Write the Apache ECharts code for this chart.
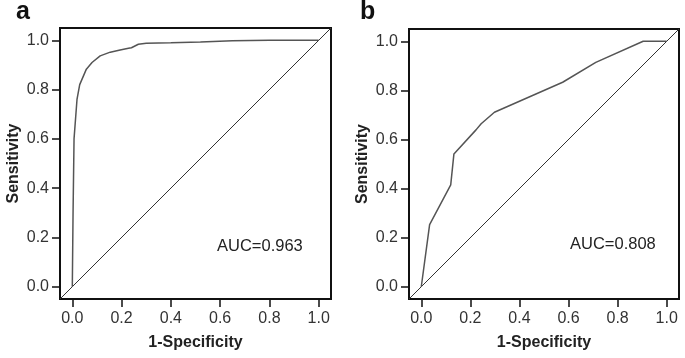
<!DOCTYPE html>
<html>
<head>
<meta charset="utf-8">
<script src="https://cdn.jsdelivr.net/npm/echarts@6/dist/echarts.min.js"></script>
<style>
  html, body { margin: 0; padding: 0; background: #fff; }
  #chart { width: 685px; height: 358px; }
</style>
</head>
<body>
<div id="chart"></div>
<script>
// ROC curve, panel a
const fprA = [0, 0.003, 0.007, 0.019, 0.03, 0.057, 0.08, 0.113, 0.154, 0.194, 0.228, 0.24, 0.268, 0.30, 0.40, 0.52, 0.65, 0.8, 1.0];
const tprA = [0, 0.3, 0.6, 0.76, 0.82, 0.883, 0.91, 0.937, 0.952, 0.961, 0.968, 0.97, 0.984, 0.988, 0.99, 0.993, 0.998, 1.0, 1.0];
// ROC curve, panel b
const fprB = [0, 0.034, 0.12, 0.133, 0.223, 0.244, 0.298, 0.576, 0.711, 0.904, 0.99, 1.0];
const tprB = [0, 0.253, 0.415, 0.541, 0.639, 0.664, 0.711, 0.833, 0.914, 1.0, 1.0, 1.0];
// reference line
const diag = [-0.05, 1.05];
const ticks = [0, 0.2, 0.4, 0.6, 0.8, 1.0];
const panels = ['a', 'b'];
const aucText = ['AUC=0.963', 'AUC=0.808'];

const pairs = (xs, ys) => xs.map((x, i) => [x, ys[i]]);

const font = '"Liberation Sans", Arial, sans-serif';
const grids = [
  { left: 60, top: 28, width: 271, height: 271 },
  { left: 409, top: 29, width: 270, height: 270 },
];

const axisBase = {
  type: 'value',
  min: -0.05,
  max: 1.05,
  splitLine: { show: false },
  axisLine: { show: false, onZero: false },
  axisTick: {
    show: true,
    inside: false,
    length: 8,
    customValues: ticks,
    lineStyle: { color: '#111', width: 1.5 },
  },
  axisLabel: {
    customValues: ticks,
    formatter: v => v.toFixed(1),
    color: '#333',
    fontSize: 16,
    fontFamily: font,
  },
  nameLocation: 'middle',
  nameTextStyle: { fontWeight: 'bold', fontSize: 16, color: '#222', fontFamily: font },
};

const chart = echarts.init(document.getElementById('chart'));
const option = {
  animation: false,
  backgroundColor: '#fff',
  grid: grids.map(g => ({
    ...g,
    show: true,
    borderColor: '#111',
    borderWidth: 2,
    backgroundColor: 'transparent',
  })),
  xAxis: [0, 1].map(i => ({
    ...axisBase,
    gridIndex: i,
    name: '1-Specificity',
    nameGap: 36,
    axisLabel: { ...axisBase.axisLabel, margin: 12 },
  })),
  yAxis: [0, 1].map(i => ({
    ...axisBase,
    gridIndex: i,
    name: 'Sensitivity',
    nameGap: 38,
    axisLabel: { ...axisBase.axisLabel, margin: 11 },
  })),
  series: [
    {
      type: 'line',
      xAxisIndex: 0,
      yAxisIndex: 0,
      data: pairs(diag, diag),
      showSymbol: false,
      lineStyle: { color: '#333', width: 1 },
    },
    {
      type: 'line',
      xAxisIndex: 0,
      yAxisIndex: 0,
      data: pairs(fprA, tprA),
      showSymbol: false,
      lineStyle: { color: '#555', width: 1.5 },
    },
    {
      type: 'line',
      xAxisIndex: 1,
      yAxisIndex: 1,
      data: pairs(diag, diag),
      showSymbol: false,
      lineStyle: { color: '#333', width: 1 },
    },
    {
      type: 'line',
      xAxisIndex: 1,
      yAxisIndex: 1,
      data: pairs(fprB, tprB),
      showSymbol: false,
      lineStyle: { color: '#555', width: 1.5 },
    },
  ],
  graphic: [
    { type: 'text', left: 16, top: 0, style: { text: panels[0], font: 'bold 25px ' + font, fill: '#111' } },
    { type: 'text', left: 360, top: 0, style: { text: panels[1], font: 'bold 25px ' + font, fill: '#111' } },
    { type: 'text', left: 217, top: 238, style: { text: aucText[0], font: '16.5px ' + font, fill: '#222' } },
    { type: 'text', left: 570, top: 236, style: { text: aucText[1], font: '16.5px ' + font, fill: '#222' } },
  ],
};
chart.setOption(option);
</script>
</body>
</html>
